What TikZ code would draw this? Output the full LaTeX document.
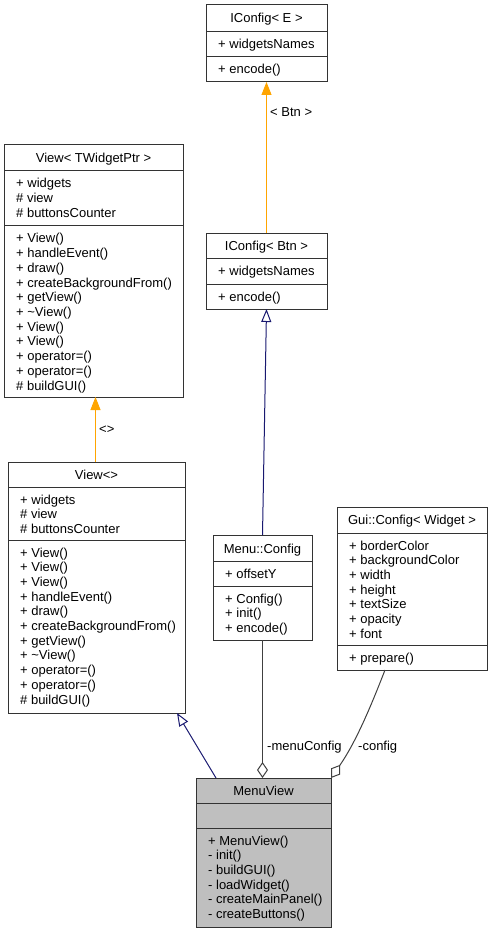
\documentclass[tikz,border=0pt]{standalone}
\usepackage{fontspec}
\setmainfont{Liberation Sans}
\usetikzlibrary{arrows.meta,calc}

\definecolor{edgeorange}{HTML}{FFA500}
\definecolor{edgenavy}{HTML}{191970}
\definecolor{edgegray}{HTML}{404040}
\definecolor{boxline}{HTML}{333333}
\definecolor{boxfill}{HTML}{BFBFBF}

\newcommand\umlfont{\fontsize{13}{14.7}\selectfont}
% #1 name prefix, #2 text x, #3 first baseline y, #4 comma separated members
\newcommand\memberlist[4]{%
  \foreach \m [count=\k] in {#4}
    \node[member] (#1-\k) at (#2, {#3+(\k-1)*14.7}) {\m};}

\begin{document}
\begin{tikzpicture}[x=1pt,y=-1pt,
  classbox/.style={draw=boxline, line width=1pt, fill=white, inner sep=0pt,
    outer sep=0pt, anchor=north west},
  title/.style={anchor=base, inner sep=0pt, font=\umlfont},
  member/.style={anchor=base west, inner sep=0pt, font=\umlfont},
  rule/.style={draw=boxline, line width=1pt},
  lbl/.style={anchor=base west, inner sep=0pt, font=\umlfont},
  inherit/.style={draw=edgenavy, line width=1pt,
    -{Triangle[open, length=13pt, width=10pt]}},
  tmpl/.style={draw=edgeorange, line width=1pt,
    -{Triangle[length=13pt, width=10pt]}},
  usage/.style={draw=edgegray, line width=1pt,
    -{Diamond[open, length=16pt, width=11pt]}}]

\useasboundingbox (0,0) rectangle (493,933);

% IConfig< E >
\node[classbox, minimum width=121pt, minimum height=77pt] (ice) at (206,5) {};
\node[title] (ice-t) at (266.5,22.5) {IConfig< E >};
\draw[rule] (206,32) -- (327,32);
\draw[rule] (206,57) -- (327,57);
\memberlist{ice-a}{218}{49}{+ widgetsNames}
\memberlist{ice-m}{218}{74}{+ encode()}

% IConfig< Btn >
\node[classbox, minimum width=121pt, minimum height=76pt] (icb) at (206,233) {};
\node[title] (icb-t) at (266.5,250.5) {IConfig< Btn >};
\draw[rule] (206,258) -- (327,258);
\draw[rule] (206,284) -- (327,284);
\memberlist{icb-a}{218}{275}{+ widgetsNames}
\memberlist{icb-m}{218}{301}{+ encode()}

% View< TWidgetPtr >
\node[classbox, minimum width=179pt, minimum height=252pt] (vwt) at (4,145) {};
\node[title] (vwt-t) at (93.5,162.5) {View< TWidgetPtr >};
\draw[rule] (4,171) -- (183,171);
\draw[rule] (4,226) -- (183,226);
\memberlist{vwt-a}{16}{188}{+ widgets,\# view,\# buttonsCounter}
\memberlist{vwt-m}{16}{243}{+ View(),+ handleEvent(),+ draw(),+ createBackgroundFrom(),+ getView(),+ \textasciitilde View(),+ View(),+ View(),+ operator=(),+ operator=(),\# buildGUI()}

% View<>
\node[classbox, minimum width=177pt, minimum height=251pt] (vw) at (8,462) {};
\node[title] (vw-t) at (96.5,479) {View<>};
\draw[rule] (8,487) -- (185,487);
\draw[rule] (8,540) -- (185,540);
\memberlist{vw-a}{20}{504}{+ widgets,\# view,\# buttonsCounter}
\memberlist{vw-m}{20}{557}{+ View(),+ View(),+ View(),+ handleEvent(),+ draw(),+ createBackgroundFrom(),+ getView(),+ \textasciitilde View(),+ operator=(),+ operator=(),\# buildGUI()}

% Menu::Config
\node[classbox, minimum width=99pt, minimum height=105pt] (mc) at (213,535) {};
\node[title] (mc-t) at (262.5,553) {Menu::Config};
\draw[rule] (213,561) -- (312,561);
\draw[rule] (213,586) -- (312,586);
\memberlist{mc-a}{225}{578}{+ offsetY}
\memberlist{mc-m}{225}{603}{+ Config(),+ init(),+ encode()}

% Gui::Config< Widget >
\node[classbox, minimum width=150pt, minimum height=163pt] (gc) at (337,507) {};
\node[title] (gc-t) at (412,524.5) {Gui::Config< Widget >};
\draw[rule] (337,533) -- (487,533);
\draw[rule] (337,645) -- (487,645);
\memberlist{gc-a}{349}{550}{+ borderColor,+ backgroundColor,+ width,+ height,+ textSize,+ opacity,+ font}
\memberlist{gc-m}{349}{662}{+ prepare()}

% MenuView
\node[classbox, fill=boxfill, minimum width=135pt, minimum height=149pt] (mv) at (196,778) {};
\node[title] (mv-t) at (263.5,795.5) {MenuView};
\draw[rule] (196,803) -- (331,803);
\draw[rule] (196,828) -- (331,828);
\memberlist{mv-m}{208}{845}{+ MenuView(),- init(),- buildGUI(),- loadWidget(),- createMainPanel(),- createButtons()}

% template instantiations
\draw[tmpl] (icb.north) -- (ice.south);
\node[lbl] (icb-lbl) at (270,117) {< Btn >};
\coordinate (vx) at (95.5,0);
\draw[tmpl] (vw.north -| vx) -- (vwt.south -| vx);
\node[lbl] (vw-lbl) at (99,433) {<>};

% inheritance
\draw[inherit] (mc.north) -- (icb.south);
\draw[inherit] ($(mv.north west)+(20,0)$) -- ($(vw.south west)+(169,0)$);

% aggregation
\draw[usage] (mc.south) -- (mc.south |- mv.north);
\node[lbl] (mc-lbl) at (267,750) {-menuConfig};
\draw[usage] ($(gc.south west)+(48,0)$)
  .. controls ($(gc.south west)+(34,36)$) and ($(mv.north east)+(25,-36)$)
  .. (mv.north east);
\node[lbl] (gc-lbl) at (358,750) {-config};

\end{tikzpicture}
\end{document}
